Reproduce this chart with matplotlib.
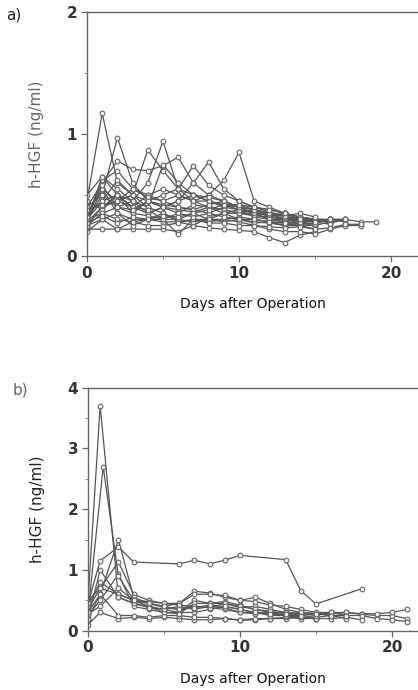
import numpy as np
import matplotlib
matplotlib.use('Agg')
import matplotlib.pyplot as plt
from matplotlib.ticker import MultipleLocator

# Panel a) : h-HGF after operation, one list per patient (daily samples from day 0)
a_series = [
    [0.45, 1.17, 0.60, 0.50, 0.45, 0.40, 0.38, 0.36, 0.40, 0.38, 0.35, 0.33, 0.32, 0.30, 0.28, 0.30, 0.28],
    [0.30, 0.50, 0.97, 0.60, 0.45, 0.42, 0.40, 0.38, 0.35, 0.40, 0.38, 0.36, 0.33, 0.35, 0.30, 0.28, 0.30, 0.28],
    [0.35, 0.55, 0.45, 0.50, 0.87, 0.70, 0.55, 0.45, 0.45, 0.42, 0.40, 0.38, 0.35, 0.30, 0.30, 0.28],
    [0.25, 0.40, 0.50, 0.45, 0.60, 0.94, 0.55, 0.50, 0.45, 0.40, 0.42, 0.38, 0.35, 0.32, 0.30, 0.30, 0.27, 0.30],
    [0.40, 0.60, 0.78, 0.71, 0.70, 0.74, 0.81, 0.60, 0.50, 0.45, 0.40, 0.35, 0.33, 0.30, 0.28],
    [0.30, 0.35, 0.40, 0.35, 0.45, 0.50, 0.55, 0.74, 0.58, 0.50, 0.45, 0.40, 0.36, 0.33, 0.30, 0.30],
    [0.30, 0.45, 0.50, 0.40, 0.35, 0.40, 0.45, 0.60, 0.77, 0.55, 0.45, 0.40, 0.38, 0.35, 0.32, 0.30, 0.30, 0.30],
    [0.28, 0.40, 0.45, 0.40, 0.50, 0.55, 0.50, 0.45, 0.50, 0.62, 0.85, 0.45, 0.40, 0.35, 0.32, 0.30, 0.28, 0.30, 0.28, 0.28],
    [0.22, 0.22, 0.22, 0.22, 0.22, 0.22, 0.20, 0.25, 0.23, 0.22, 0.21, 0.20, 0.15, 0.11, 0.17, 0.20],
    [0.25, 0.30, 0.22, 0.28, 0.30, 0.30, 0.18, 0.30, 0.28, 0.30, 0.28, 0.25, 0.22, 0.20, 0.20, 0.18, 0.22, 0.25, 0.25],
    [0.50, 0.65, 0.55, 0.45, 0.40, 0.75, 0.60, 0.50, 0.45, 0.42, 0.38, 0.35, 0.35, 0.30, 0.32, 0.30],
    [0.30, 0.62, 0.70, 0.55, 0.50, 0.45, 0.50, 0.45, 0.40, 0.38, 0.35, 0.38, 0.32, 0.30, 0.28, 0.30, 0.30],
    [0.35, 0.45, 0.62, 0.50, 0.40, 0.35, 0.30, 0.35, 0.30, 0.30, 0.32, 0.30, 0.28, 0.27, 0.25, 0.25, 0.28],
    [0.28, 0.55, 0.35, 0.30, 0.30, 0.28, 0.28, 0.30, 0.30, 0.28, 0.30, 0.28, 0.27, 0.25, 0.27, 0.25],
    [0.40, 0.50, 0.40, 0.45, 0.35, 0.40, 0.45, 0.50, 0.48, 0.45, 0.40, 0.35, 0.30, 0.30, 0.28, 0.28, 0.30, 0.30],
    [0.20, 0.30, 0.35, 0.25, 0.30, 0.35, 0.28, 0.25, 0.32, 0.35, 0.30, 0.27, 0.28, 0.25, 0.25, 0.22],
    [0.45, 0.38, 0.50, 0.40, 0.38, 0.30, 0.35, 0.42, 0.40, 0.35, 0.35, 0.35, 0.30, 0.28, 0.30, 0.28, 0.26],
    [0.30, 0.65, 0.50, 0.35, 0.33, 0.30, 0.30, 0.28, 0.30, 0.35, 0.38, 0.32, 0.30, 0.28, 0.26, 0.27],
    [0.25, 0.35, 0.30, 0.28, 0.25, 0.25, 0.27, 0.30, 0.27, 0.27, 0.25, 0.25, 0.24, 0.23, 0.24, 0.22, 0.23, 0.26, 0.26],
    [0.38, 0.42, 0.45, 0.55, 0.48, 0.45, 0.40, 0.38, 0.42, 0.45, 0.40, 0.38, 0.35, 0.33, 0.35, 0.32],
    [0.32, 0.58, 0.40, 0.38, 0.45, 0.40, 0.35, 0.32, 0.35, 0.32, 0.30, 0.30, 0.28, 0.27, 0.28, 0.26],
    [0.27, 0.33, 0.27, 0.32, 0.30, 0.33, 0.32, 0.35, 0.38, 0.42, 0.42, 0.40, 0.38, 0.35, 0.30, 0.28, 0.30],
]

# Panel b) : sampling days (first sample after operation at ~0.8 day)
b_days = [0, 0.8, 2, 3, 4, 5, 6, 7, 8, 9, 10, 11, 12, 13, 14, 15, 16, 17, 18, 19, 20, 21]
b_series = [
    [0.50, 3.70, 0.55, 0.45, 0.40, 0.35, 0.30, 0.30, 0.35, 0.40, 0.35, 0.30, 0.28, 0.25, 0.22, 0.20],
    [0.35, 0.70, 1.13, 0.60, 0.50, 0.45, 0.45, 0.65, 0.62, 0.55, 0.50, 0.55, 0.45, 0.35, 0.30, 0.28, 0.28, 0.30, 0.27, 0.25, 0.25, 0.20],
    [0.20, 0.60, 1.50, 0.55, 0.45, 0.40, 0.45, 0.60, 0.60, 0.58, 0.50, 0.48, 0.42, 0.40, 0.35, 0.30, 0.30, 0.30, 0.28, 0.28, 0.30, 0.35],
    [0.25, 0.50, 0.93, 0.40, 0.35, 0.30, 0.30, 0.50, 0.45, 0.45, 0.38, 0.40, 0.35, 0.30, 0.25, 0.22, 0.25, 0.25, 0.25, 0.20, 0.18, 0.15],
    [0.10, 0.30, 0.20, 0.22, 0.20, 0.22, 0.20, 0.18, 0.18, 0.20, 0.17, 0.18, 0.20, 0.20, 0.22, 0.20, 0.20, 0.22, 0.18],
    [0.40, 0.80, 0.60, 0.50, 0.45, 0.38, 0.35, 0.40, 0.38, 0.35, 0.30, 0.28, 0.30, 0.25, 0.25, 0.28, 0.25, 0.20],
    [0.30, 0.60, 0.25, 0.25, 0.22, 0.25, 0.25, 0.22, 0.22, 0.20, 0.18, 0.20, 0.20, 0.22, 0.20, 0.20],
    [0.50, 0.70, 0.60, 0.50, 0.40, 0.30, 0.28, 0.45, 0.45, 0.48, 0.42, 0.35, 0.30, 0.30, 0.28, 0.25, 0.30, 0.25],
    [0.20, 1.00, 0.55, 0.45, 0.38, 0.35, 0.40, 0.35, 0.40, 0.38, 0.30, 0.30, 0.25, 0.25, 0.22],
    [0.28, 0.40, 0.70, 0.50, 0.48, 0.45, 0.42, 0.40, 0.38, 0.45, 0.40, 0.35, 0.32, 0.28, 0.30, 0.28, 0.25, 0.25],
]
# two patients sampled on other days
b2_days = [0, 1, 2, 3, 4, 5, 6, 7, 8, 9, 10, 11, 12, 13, 14]
b2_vals = [0.30, 2.70, 0.90, 0.50, 0.45, 0.40, 0.35, 0.38, 0.42, 0.40, 0.35, 0.30, 0.28, 0.27, 0.25]
b3_days = [0, 0.8, 2, 3, 6, 7, 8, 9, 10, 13, 14, 15, 18]
b3_vals = [0.45, 1.15, 1.38, 1.13, 1.10, 1.16, 1.10, 1.16, 1.24, 1.17, 0.66, 0.44, 0.69]

line_c = '#555555'
text_c = '#333333'
mk = dict(marker='o', ms=3.4, mfc='#f4f4f4', mec='#666666', mew=0.8,
          color=line_c, lw=0.9)

fig = plt.figure(figsize=(4.18, 6.90), dpi=100)
ax_a = fig.add_axes([87/418, 1 - 256/690, 1 - 87/418, 244/690])
ax_b = fig.add_axes([88/418, 1 - 630.7/690, 1 - 88/418, 243/690])

for v in a_series:
    ax_a.plot(np.arange(len(v)), v, **mk)
for v in b_series:
    ax_b.plot(b_days[:len(v)], v, **mk)
ax_b.plot(b2_days, b2_vals, **mk)
ax_b.plot(b3_days, b3_vals, **mk)

for ax, ymax, xmax, ycol in [(ax_a, 2, (418 - 87) / 15.2, '#666666'),
                             (ax_b, 4, (418 - 88) / 15.2, '#222222')]:
    ax.set_xlim(0, xmax)
    ax.set_ylim(0, ymax)
    ax.set_xticks([0, 10, 20])
    ax.set_yticks(range(ymax + 1))
    ax.xaxis.set_minor_locator(MultipleLocator(5))
    ax.yaxis.set_minor_locator(MultipleLocator(0.5))
    ax.spines['right'].set_visible(False)
    for s in ['left', 'bottom', 'top']:
        ax.spines[s].set_color('#666666')
        ax.spines[s].set_linewidth(1.0)
    ax.tick_params(axis='both', which='major', length=4, width=0.9, color='#666666',
                   labelsize=11, labelcolor=text_c, pad=3)
    ax.tick_params(axis='both', which='minor', length=2, width=0.7, color='#888888')
    ax.set_xlabel('Days after Operation', fontsize=10, color='#111111', labelpad=12)
    ax.set_ylabel('h-HGF (ng/ml)', fontsize=11, color=ycol, labelpad=16)
    for lbl in ax.get_xticklabels() + ax.get_yticklabels():
        lbl.set_fontweight('bold')

fig.text(14/418, 1 - 15/690, 'a)', fontsize=11, color='#222222', ha='center', va='center')
fig.text(20/418, 1 - 390/690, 'b)', fontsize=11, color='#666666', ha='center', va='center')

fig.savefig('out.png', dpi=100)
